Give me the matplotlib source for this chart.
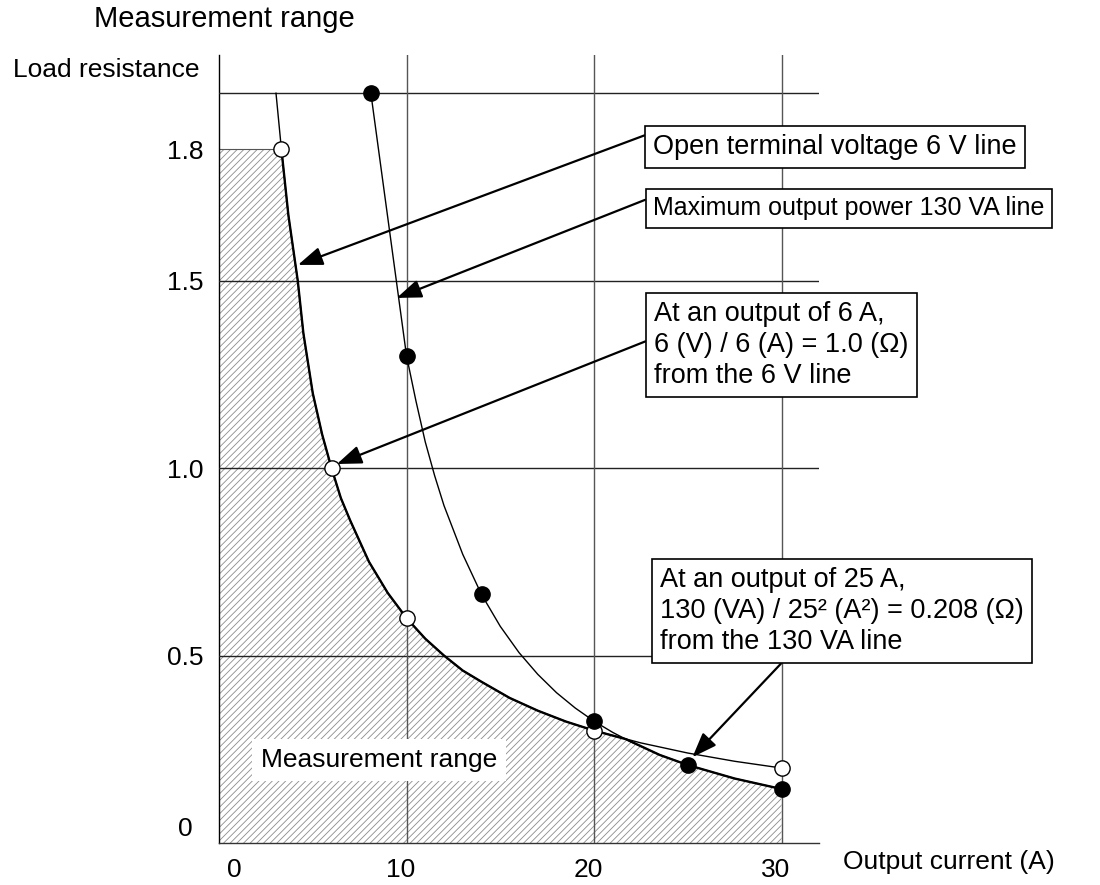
import numpy as np
import matplotlib.pyplot as plt
from matplotlib.transforms import ScaledTranslation

plt.rcParams['font.family'] = ['Liberation Sans', 'DejaVu Sans']
plt.rcParams['font.size'] = 19
plt.rcParams['hatch.color'] = '#8c8c8c'
plt.rcParams['hatch.linewidth'] = 0.6

# values: output current (A) -> load resistance (ohm)
v6_I = [3.04, 3.33, 3.7, 4.2, 4.5, 5.0, 5.5, 6.0, 6.5, 7.0, 8.0, 9.0, 10.0, 11.0, 12.0, 13.0,
        14.0, 15.5, 17.0, 18.5, 20.0, 22.5, 25.0, 27.5, 30.0]
v6_R = [2.0, 1.8, 1.65, 1.5, 1.36, 1.2, 1.09, 1.0, 0.92, 0.86, 0.75, 0.667, 0.6, 0.545, 0.5, 0.46,
        0.43, 0.387, 0.353, 0.324, 0.3, 0.267, 0.24, 0.218, 0.2]

va_I = [8.1, 10.0, 10.5, 11.0, 11.5, 12.0, 13.0, 14.0, 15.0, 16.0, 17.0, 18.0, 19.0, 20.0,
        21.0, 22.0, 23.5, 25.0, 27.5, 30.0]
va_R = [2.0, 1.3, 1.18, 1.07, 0.98, 0.9, 0.77, 0.663, 0.578, 0.508, 0.45, 0.401, 0.36, 0.325,
        0.295, 0.269, 0.235, 0.208, 0.172, 0.144]

v6_pts_I = [3.33, 6.0, 10.0, 20.0, 30.0]
v6_pts_R = [1.8, 1.0, 0.6, 0.3, 0.2]
va_pts_I = [8.1, 10.0, 14.0, 20.0, 25.0, 30.0]
va_pts_R = [2.0, 1.3, 0.663, 0.325, 0.208, 0.144]

# measurement range = below both lines
range_I = [0.0, 3.33, 3.7, 4.2, 4.5, 5.0, 5.5, 6.0, 6.5, 7.0, 8.0, 9.0, 10.0, 11.0, 12.0, 13.0,
           14.0, 15.5, 17.0, 18.5, 20.0, 21.7, 23.5, 25.0, 27.5, 30.0]
range_R = [1.8, 1.8, 1.65, 1.5, 1.36, 1.2, 1.09, 1.0, 0.92, 0.86, 0.75, 0.667, 0.6, 0.545, 0.5, 0.46,
           0.43, 0.387, 0.353, 0.324, 0.3, 0.277, 0.235, 0.208, 0.172, 0.144]

x_ticks = [0, 10, 20, 30]
y_ticks = [0, 0.5, 1.0, 1.5, 1.8]
y_labels = ['0', '0.5', '1.0', '1.5', '1.8']
h_lines = [0.5, 1.0, 1.5, 2.0]
v_lines = [10, 20, 30]

# the drawing is not quite to scale near the top (1.8 sits a bit high)
knot_val = [-1.0, 0.0, 1.5, 1.8, 2.0, 3.0]
knot_pos = [-1.0, 0.0, 1.5, 1.85, 2.0, 3.0]


def fwd(v):
    return np.interp(v, knot_val, knot_pos)


def inv(p):
    return np.interp(p, knot_pos, knot_val)


fig = plt.figure(figsize=(11, 8.85), dpi=100)
ax = fig.add_axes([219 / 1100, 42 / 885, 600 / 1100, 788 / 885])
ax.set_yscale('function', functions=(fwd, inv))
ax.set_xlim(0, 32)
ax.set_ylim(0, 2.102)

for s in ['top', 'right']:
    ax.spines[s].set_visible(False)
ax.spines['left'].set_linewidth(1.0)
ax.spines['bottom'].set_linewidth(1.0)
ax.spines['bottom'].set_color('#333333')

# hatched range
ax.fill_between(range_I, 0, range_R, facecolor='white', hatch='/////', linewidth=0, zorder=1)
ax.plot(range_I[:2], range_R[:2], color='#555555', lw=0.8, zorder=2)

for y in h_lines:
    ax.axhline(y, color='#222222', lw=1.0, zorder=3)
for x in v_lines:
    ax.axvline(x, color='#555555', lw=1.0, zorder=3)

ax.plot(v6_I, v6_R, color='black', lw=1.0, zorder=4)
ax.plot(va_I, va_R, color='black', lw=1.0, zorder=4)
ax.plot(range_I[1:], range_R[1:], color='black', lw=1.7, zorder=4)

ax.plot(v6_pts_I, v6_pts_R, 'o', ms=11, mfc='white', mec='black', mew=1.0, zorder=5)
ax.plot(va_pts_I, va_pts_R, 'o', ms=11, mfc='black', mec='black', mew=1.0, zorder=5)

ax.set_xticks(x_ticks)
ax.set_xticklabels([str(t) for t in x_ticks])
ax.set_yticks(y_ticks)
ax.set_yticklabels(y_labels)
ax.minorticks_off()
ax.tick_params(axis='both', length=0)
ax.tick_params(axis='x', pad=11)
ax.tick_params(axis='y', pad=24.5)
for lab in ax.get_yticklabels():
    lab.set_horizontalalignment('center')

xl = ax.get_xticklabels()
for i, lab in enumerate(xl):
    dx = 15 if i == 0 else -6
    lab.set_transform(lab.get_transform() + ScaledTranslation(dx / 100, 0, fig.dpi_scale_trans))
yl = ax.get_yticklabels()
yl[0].set_transform(yl[0].get_transform() + ScaledTranslation(0, 16 / 100, fig.dpi_scale_trans))

fig.text(94 / 1100, 1 - 19 / 885, 'Measurement range', ha='left', va='center', fontsize=21)
fig.text(13 / 1100, 1 - 70 / 885, 'Load resistance', ha='left', va='center')
fig.text(843 / 1100, 1 - 862 / 885, 'Output current (A)', ha='left', va='center')

ax.text(261, 885 - 760, 'Measurement range', transform=None, ha='left', va='center', zorder=6,
        bbox=dict(boxstyle='square,pad=0.33', facecolor='white', edgecolor='none'))


def note(txt, tip, pos, rel, size=19.5, pad=0.3):
    box = dict(boxstyle='square,pad=%s' % pad, facecolor='white', edgecolor='black', lw=1.2)
    ax.annotate(txt, xy=tip, xycoords='data', xytext=pos, textcoords='figure pixels',
                ha='left', va='top', bbox=box, zorder=7, linespacing=1.25, fontsize=size,
                arrowprops=dict(arrowstyle='-|>,head_length=0.75,head_width=0.28',
                                color='black', lw=1.6, relpos=rel, shrinkA=0, shrinkB=0,
                                mutation_scale=20))


note('Open terminal voltage 6 V line', (4.21, 1.536), (653, 885 - 134), (0, 1.07))
note('Maximum output power 130 VA line', (9.48, 1.454), (653, 885 - 196), (0, 0.97), size=18)
note('At an output of 6 A,\n6 (V) / 6 (A) = 1.0 (\u03a9)\nfrom the 6 V line',
     (6.29, 1.011), (654, 885 - 301), (0, 0.58))
note('At an output of 25 A,\n130 (VA) / 25\u00b2 (A\u00b2) = 0.208 (\u03a9)\nfrom the 130 VA line',
     (25.25, 0.229), (660, 885 - 567), (0.355, 0))

fig.savefig('out.png', dpi=100)
